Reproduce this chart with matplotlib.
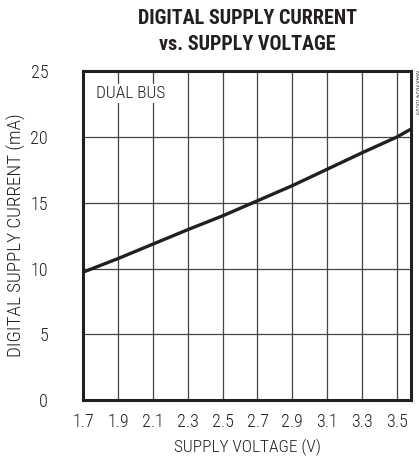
import matplotlib
matplotlib.use("Agg")
import matplotlib.pyplot as plt

voltage = [1.7, 1.9, 2.1, 2.3, 2.5, 2.7, 2.9, 3.1, 3.3, 3.5, 3.58]
current = [9.72, 10.75, 11.85, 12.95, 14.0, 15.15, 16.3, 17.55, 18.8, 20.0, 20.6]
xticks = [1.7, 1.9, 2.1, 2.3, 2.5, 2.7, 2.9, 3.1, 3.3, 3.5]
yticks = [0, 5, 10, 15, 20, 25]

plt.rcParams['font.family'] = ['Roboto Condensed', 'DejaVu Sans']
INK = '#231f20'

fig = plt.figure(figsize=(4.19, 4.62), dpi=100)
ax = fig.add_axes([0.198, 0.134, 0.783, 0.712])

ax.plot(voltage, current, color=INK, lw=2.4, solid_capstyle='butt', zorder=3)
ax.set_xlim(1.7, 3.58)
ax.set_ylim(0, 25)
ax.set_xticks(xticks)
ax.set_yticks(yticks)
ax.set_xticklabels([f"{v:.1f}" for v in xticks], fontsize=13, color=INK, fontweight='light')
ax.set_yticklabels([str(v) for v in yticks], fontsize=13, color=INK, fontweight='light')
ax.tick_params(axis='x', length=0, pad=9)
ax.tick_params(axis='y', length=0, pad=25)
ax.grid(True, color='#444444', lw=0.9)
ax.set_axisbelow(True)
for s in ax.spines.values():
    s.set_linewidth(2.2)
    s.set_color(INK)

ax.set_xlabel('SUPPLY VOLTAGE (V)', fontsize=12.5, color=INK, labelpad=6, fontweight='light')
ax.set_ylabel('DIGITAL SUPPLY CURRENT (mA)', fontsize=13.8, color=INK, labelpad=3, fontweight='light')

ax.text(0.04, 0.955, 'DUAL BUS', transform=ax.transAxes, fontsize=12.5,
        color=INK, va='top', ha='left', fontweight='light',
        bbox=dict(facecolor='white', edgecolor='none', pad=1.5))

fig.text(0.59, 0.961, 'DIGITAL SUPPLY CURRENT', ha='center', va='center',
         fontsize=14.5, fontweight='heavy', color=INK)
fig.text(0.59, 0.903, 'vs. SUPPLY VOLTAGE', ha='center', va='center',
         fontsize=14.5, fontweight='heavy', color=INK)

fig.text(0.993, 0.80, 'MAX9654 toc09', rotation=-90, fontsize=5, color='#555555',
         ha='center', va='center')

fig.savefig('out.png', dpi=100)
